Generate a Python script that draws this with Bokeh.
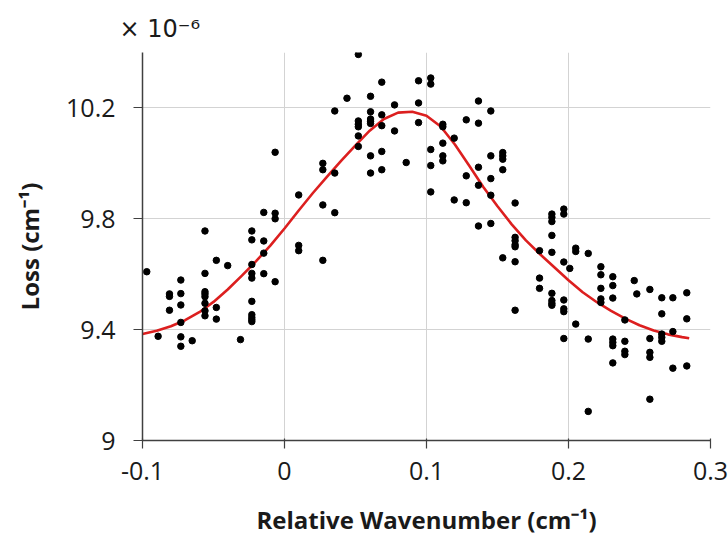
from bokeh.plotting import figure
from bokeh.models import FixedTicker, Title
from bokeh.embed import file_html
from bokeh.resources import INLINE

# ---- ticks ----
x_ticks = [-0.1, 0.0, 0.1, 0.2, 0.3]
x_tick_labels = ["-0.1", "0", "0.1", "0.2", "0.3"]
y_ticks = [9.0, 9.4, 9.8, 10.2]
y_tick_labels = ["9", "9.4", "9.8", "10.2"]

# ---- measured points (relative wavenumber, loss x1e-6) ----
meas_x = [
    -0.0066, 0.010, 0.027, 0.027, 0.027, -0.056, -0.023, -0.023, -0.0146, -0.0066, -0.0066, -0.0146,
    -0.0146, 0.010, 0.010, 0.027, -0.097, -0.056, -0.048, -0.040, -0.023, -0.023, -0.023, -0.0146,
    -0.0066, -0.073, -0.081, -0.081, -0.073, -0.056, -0.056, -0.056, -0.056, -0.073, -0.081, -0.048,
    -0.056, -0.056, -0.048, -0.023, -0.023, -0.023, -0.023, -0.023, -0.073, -0.089, -0.073, -0.073,
    -0.065, -0.031,
    0.052, 0.0685, 0.0944, 0.103, 0.103, 0.044, 0.0606, 0.0944, 0.0775, 0.0354, 0.0606, 0.0685,
    0.052, 0.052, 0.052, 0.0606, 0.0606, 0.0606, 0.0685, 0.0775, 0.0944, 0.052, 0.052, 0.0685,
    0.0606, 0.0685, 0.0606, 0.0857, 0.0354, 0.0354, 0.103, 0.103, 0.103, 0.1115, 0.1115, 0.1115,
    0.1115, 0.1115, 0.1195, 0.128, 0.128, 0.128, 0.1195, 0.1366, 0.1366, 0.1366, 0.1366, 0.1366,
    0.1453, 0.1453, 0.1453, 0.1453, 0.1453, 0.1537, 0.1537, 0.1537, 0.1537, 0.1624, 0.1624,
    0.1624, 0.1624, 0.1624, 0.1537, 0.1624, 0.1624,
    0.1883, 0.1883, 0.1883, 0.1967, 0.1967, 0.1883, 0.1796, 0.1883, 0.2051, 0.2051, 0.2139, 0.1967,
    0.2009, 0.1796, 0.1796, 0.1883, 0.1883, 0.1883, 0.1883, 0.1967, 0.1967, 0.1967, 0.2051, 0.1967,
    0.2139, 0.2139, 0.2228, 0.2228, 0.2228, 0.2228, 0.2228, 0.2312, 0.2312, 0.2312, 0.2312, 0.2312,
    0.2312, 0.2312, 0.2397, 0.2397, 0.2397, 0.2397, 0.2463, 0.2481, 0.2573, 0.2573, 0.2573, 0.2573,
    0.2573, 0.2657, 0.2657, 0.2657, 0.2657, 0.2657, 0.2735, 0.2735, 0.2735, 0.2833, 0.2833, 0.2833,
]
meas_y = [
    10.040, 9.886, 10.000, 9.977, 9.850, 9.756, 9.756, 9.724, 9.823, 9.820, 9.800, 9.720,
    9.676, 9.704, 9.685, 9.650, 9.609, 9.603, 9.650, 9.631, 9.635, 9.603, 9.586, 9.602,
    9.573, 9.579, 9.529, 9.520, 9.530, 9.537, 9.529, 9.519, 9.495, 9.489, 9.470, 9.480,
    9.468, 9.450, 9.438, 9.502, 9.454, 9.444, 9.436, 9.429, 9.426, 9.376, 9.374, 9.340,
    9.360, 9.364,
    10.393, 10.293, 10.298, 10.308, 10.286, 10.235, 10.242, 10.218, 10.211, 10.189, 10.186, 10.175,
    10.153, 10.141, 10.132, 10.160, 10.152, 10.144, 10.136, 10.117, 10.147, 10.099, 10.061, 10.043,
    10.027, 9.977, 9.965, 10.003, 9.965, 9.822, 10.050, 9.992, 9.897, 10.141, 10.132, 10.073,
    10.027, 10.009, 10.091, 10.157, 9.955, 9.858, 9.868, 10.225, 10.145, 9.986, 9.921, 9.774,
    10.189, 10.027, 9.945, 9.885, 9.783, 10.039, 10.027, 10.015, 9.977, 9.857, 9.733,
    9.721, 9.706, 9.699, 9.659, 9.645, 9.470,
    9.817, 9.805, 9.790, 9.835, 9.817, 9.740, 9.685, 9.679, 9.694, 9.682, 9.675, 9.644,
    9.621, 9.586, 9.549, 9.531, 9.505, 9.495, 9.488, 9.507, 9.475, 9.465, 9.420, 9.368,
    9.366, 9.105, 9.627, 9.598, 9.549, 9.511, 9.498, 9.591, 9.559, 9.514, 9.366, 9.354,
    9.342, 9.280, 9.435, 9.358, 9.322, 9.310, 9.577, 9.529, 9.545, 9.368, 9.318, 9.300,
    9.149, 9.515, 9.457, 9.384, 9.372, 9.358, 9.515, 9.393, 9.261, 9.533, 9.439, 9.269,
]

# ---- fitted curve ----
fit_x = [-0.10, -0.09, -0.08, -0.07, -0.06, -0.05, -0.04, -0.03, -0.02, -0.01,
         0.00, 0.01, 0.02, 0.03, 0.04, 0.05, 0.06, 0.07, 0.08, 0.09,
         0.10, 0.11, 0.12, 0.13, 0.14, 0.15, 0.16, 0.17, 0.18, 0.19,
         0.20, 0.21, 0.22, 0.23, 0.24, 0.25, 0.26, 0.27, 0.28, 0.285]
fit_y = [9.384, 9.396, 9.412, 9.434, 9.463, 9.500, 9.545, 9.595, 9.647, 9.703,
         9.765, 9.830, 9.893, 9.952, 10.010, 10.065, 10.118, 10.160, 10.183, 10.186,
         10.172, 10.133, 10.068, 9.992, 9.915, 9.845, 9.780, 9.722, 9.672, 9.625,
         9.578, 9.535, 9.499, 9.468, 9.440, 9.416, 9.397, 9.383, 9.373, 9.369]

FONT = "Open Sans"

p = figure(width=728, height=550, x_range=(-0.1, 0.3), y_range=(9.0, 10.4),
           output_backend="svg", toolbar_location=None,
           min_border_left=142, min_border_right=18, min_border_top=52, min_border_bottom=110)
p.outline_line_color = None
p.background_fill_color = "white"
p.border_fill_color = "white"

# scale-factor note above the y axis
p.add_layout(Title(text="\u00d7 10\u207b\u2076", align="left", offset=-23, standoff=20,
                   text_font="DejaVu Sans", text_font_size="24px", text_font_style="normal",
                   text_color="#1a1a1a"), "above")

# grid
p.xgrid.ticker = FixedTicker(ticks=x_ticks)
p.ygrid.ticker = FixedTicker(ticks=y_ticks)
for g in (p.xgrid, p.ygrid):
    g.grid_line_color = "#d3d3d3"
    g.grid_line_width = 1

# axes
p.xaxis.ticker = FixedTicker(ticks=x_ticks)
p.yaxis.ticker = FixedTicker(ticks=y_ticks)
p.xaxis.major_label_overrides = dict(zip(x_ticks, x_tick_labels))
p.yaxis.major_label_overrides = dict(zip(y_ticks, y_tick_labels))
for ax in (p.xaxis, p.yaxis):
    ax.axis_line_color = "#404040"
    ax.axis_line_width = 1.5
    ax.major_tick_line_color = "#404040"
    ax.major_tick_line_width = 1.2
    ax.minor_tick_line_color = None
    ax.major_label_text_font = FONT
    ax.major_label_text_font_size = "25px"
    ax.major_label_text_color = "#1a1a1a"
    ax.axis_label_text_font = FONT
    ax.axis_label_text_font_size = "24px"
    ax.axis_label_text_font_style = "bold"
    ax.axis_label_text_color = "#1a1a1a"
p.xaxis.major_tick_out = 8
p.xaxis.major_tick_in = 2
p.yaxis.major_tick_out = 9
p.yaxis.major_tick_in = 0
p.xaxis.major_label_standoff = 13
p.yaxis.major_label_standoff = 18
p.xaxis.axis_label = "Relative Wavenumber (cm\u207b\u00b9)"
p.yaxis.axis_label = "Loss (cm\u207b\u00b9)"
p.xaxis.axis_label_standoff = 20
p.yaxis.axis_label_standoff = 17

# data
p.line(fit_x, fit_y, line_color="#dc1f1f", line_width=2.6)
p.scatter(meas_x, meas_y, size=6.5, fill_color="black", line_color="black")

open("out.html", "w").write(file_html(p, INLINE))
